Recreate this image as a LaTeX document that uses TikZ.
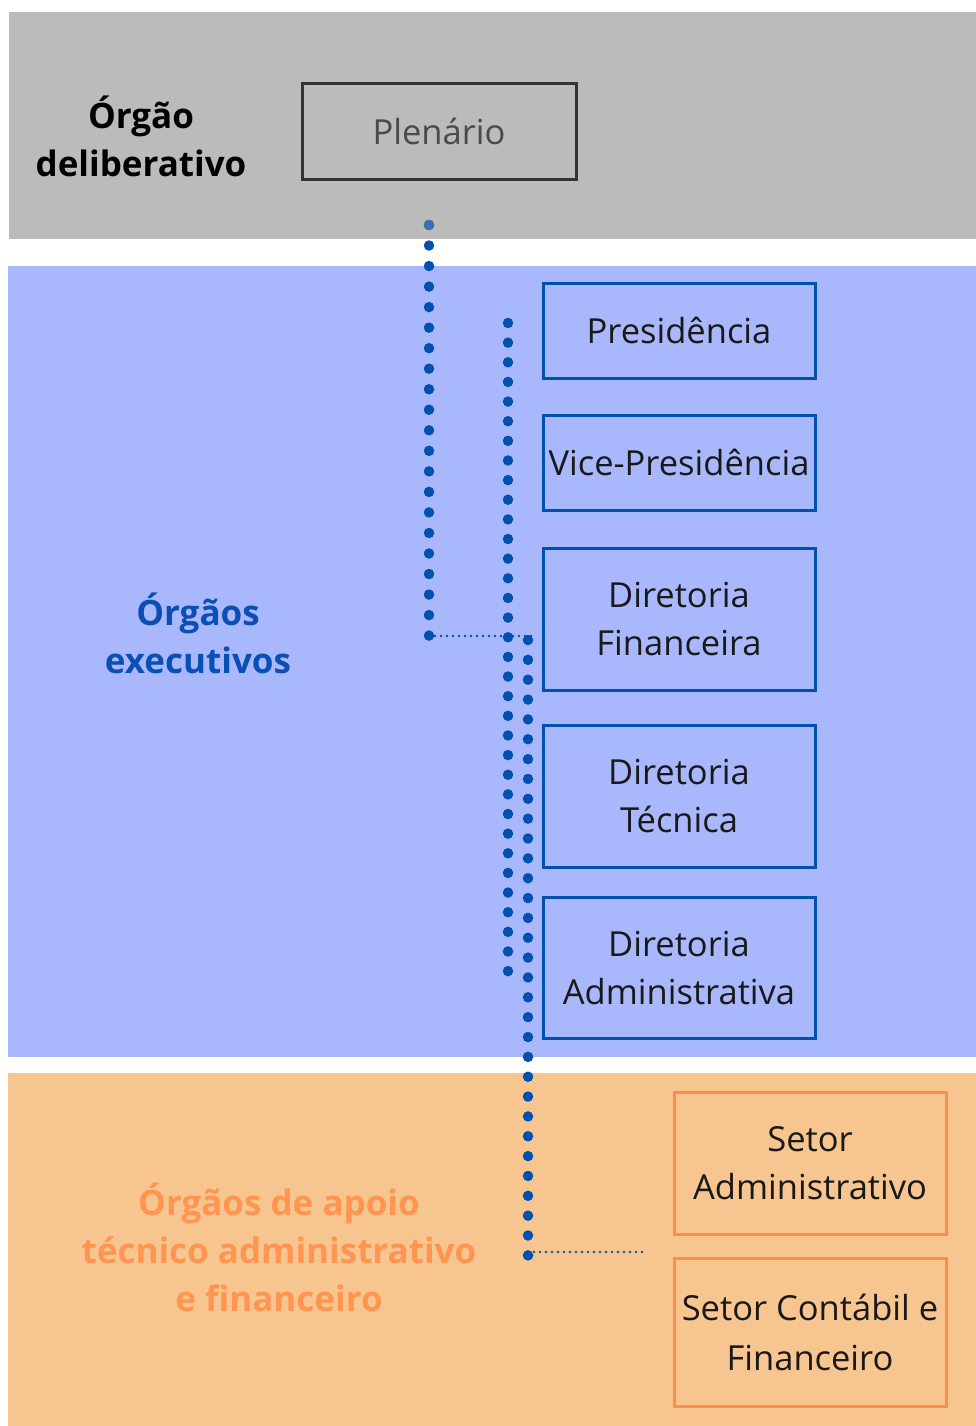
\documentclass[tikz,border=0pt]{standalone}
\usepackage{fontspec}
\setmainfont{Open Sans}
\definecolor{grayband}{HTML}{BBBBBB}
\definecolor{blueband}{HTML}{A9B8FD}
\definecolor{orangeband}{HTML}{F7C590}
\definecolor{boxblue}{HTML}{0050B0}
\definecolor{boxorange}{HTML}{FF8C4A}
\definecolor{boxgray}{HTML}{333333}
\definecolor{txtgray}{HTML}{4A4A4A}
\definecolor{lblblue}{HTML}{0A4FB5}
\definecolor{lblorange}{HTML}{FF9550}
\begin{document}
\begin{tikzpicture}[x=1pt,y=-1pt,
  orgbox/.style={draw, line width=3pt, minimum width=272pt, align=center, inner sep=0pt, font=\fontsize{34.5}{48}\selectfont, text=black!90},
  bluebox/.style={orgbox, draw=boxblue},
  orangebox/.style={orgbox, draw=boxorange},
  sidelabel/.style={align=center, font=\bfseries\fontsize{35}{48}\selectfont},
  bigdots/.style={draw=boxblue, line width=10.5pt, line cap=round},
  smalldots/.style={draw=boxblue, line width=2.6pt, line cap=round, dash pattern=on 0pt off 6pt}
]
\useasboundingbox (0,0) rectangle (976,1426);
\fill[white] (0,0) rectangle (976,1426);
% bands
\fill[grayband] (9,12) rectangle (976,239);
\fill[blueband] (8,266) rectangle (976,1057);
\fill[orangeband] (8,1073) rectangle (976,1426);

% side labels
\node[sidelabel, text=black] (lbldel) at (141,136) {Órgão\\deliberativo};
\node[sidelabel, text=lblblue] (lblexe) at (198,633) {Órgãos\\executivos};
\node[sidelabel, text=lblorange] (lblapo) at (279,1247) {Órgãos de apoio\\técnico administrativo\\e financeiro};

% boxes
\node[orgbox, draw=boxgray, text=txtgray, minimum width=274pt, minimum height=95pt] (plen) at (439,131.5) {Plenário};
\node[bluebox, minimum height=95pt] (pres) at (679,330.5) {Presidência};
\node[bluebox, minimum height=95pt] (vice) at (679,462.5) {Vice-Presidência};
\node[bluebox, minimum height=142pt] (dfin) at (679,619) {Diretoria\\Financeira};
\node[bluebox, minimum height=142pt] (dtec) at (679,796) {Diretoria\\Técnica};
\node[bluebox, minimum height=141pt] (dadm) at (679,967.5) {Diretoria\\Administrativa};
\node[orangebox, minimum height=142pt] (sadm) at (810,1163) {Setor\\Administrativo};
\node[orangebox, minimum height=148pt, font=\fontsize{34.5}{50}\selectfont] (scont) at (810,1332) {Setor Contábil e\\Financeiro};

% connector coordinates
\coordinate (a1) at (429,225);
\coordinate (a2) at (429,636);
\coordinate (a3) at (536,636);
\coordinate (b1) at (508,323);
\coordinate (b2) at (508,972);
\coordinate (c1) at (528,640);
\coordinate (c2) at (528,1256);
\coordinate (d1) at (528,1252);
\coordinate (d2) at (642,1252);

% dotted connectors
\draw[bigdots, dash pattern=on 0pt off 20.53pt] (a1) -- (a2);
\fill[boxblue!70!grayband] (a1) circle (5.25pt);
\draw[smalldots] (a2) -- (a3);
\draw[bigdots, dash pattern=on 0pt off 19.64pt] (b1) -- (b2);
\draw[bigdots, dash pattern=on 0pt off 19.85pt] (c1) -- (c2);
\draw[smalldots] (d1) -- (d2);
\end{tikzpicture}
\end{document}
